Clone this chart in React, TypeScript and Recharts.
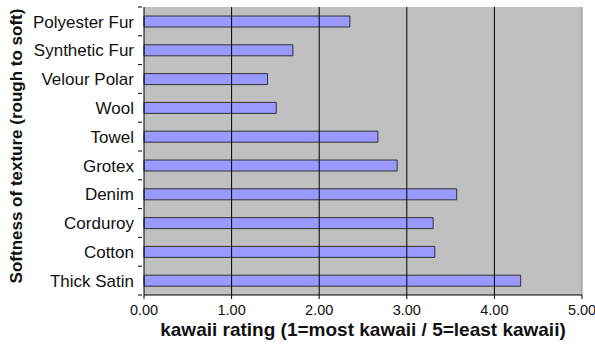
import { BarChart, Bar, XAxis, YAxis, CartesianGrid, ReferenceLine } from 'recharts';

const fabrics = [
  'Polyester Fur',
  'Synthetic Fur',
  'Velour Polar',
  'Wool',
  'Towel',
  'Grotex',
  'Denim',
  'Corduroy',
  'Cotton',
  'Thick Satin',
];
const kawaiiRatings = [2.35, 1.7, 1.41, 1.51, 2.67, 2.89, 3.57, 3.3, 3.32, 4.3];
const ratingTicks = [0, 1, 2, 3, 4, 5];
const gridLines = [1, 2, 3, 4];

const W = 595;
const H = 347;
const M = { top: 7, right: 13, bottom: 0, left: 0 };
const X_AXIS_H = 52;
const Y_AXIS_W = 144;
const PLOT_H = H - M.top - M.bottom - X_AXIS_H;
const BAND = PLOT_H / fabrics.length;

const FONT = '"Liberation Sans", Arial, Helvetica, sans-serif';

const chartData = fabrics.map((name, i) => ({ name, rating: kawaiiRatings[i] }));

// category label centred on the band, tick mark on the band boundary (Excel style)
function FabricTick(props: any) {
  const { x, y, payload, index } = props;
  const axisX = x + 6;
  const top = y - BAND / 2;
  return (
    <g>
      <line x1={axisX - 4} x2={axisX} y1={top} y2={top} stroke="#000" />
      {index === fabrics.length - 1 && (
        <line x1={axisX - 4} x2={axisX} y1={top + BAND} y2={top + BAND} stroke="#000" />
      )}
      <text
        x={axisX - 8}
        y={y}
        dy="0.36em"
        textAnchor="end"
        fill="#111"
        style={{ fontSize: 17, fontFamily: FONT }}
      >
        {payload.value}
      </text>
    </g>
  );
}

function YTitle() {
  return (
    <text
      x={16}
      y={146}
      transform="rotate(-90 16 146)"
      textAnchor="middle"
      dominantBaseline="central"
      fill="#111"
      style={{ fontSize: 17, fontWeight: 'bold', fontFamily: FONT }}
    >
      Softness of texture (rough to soft)
    </text>
  );
}

export default function App() {
  return (
    <div style={{ position: 'absolute', left: 0, top: 0, background: '#fff' }}>
      <BarChart
        width={W}
        height={H}
        data={chartData}
        layout="vertical"
        margin={M}
        barCategoryGap={0}
      >
        <CartesianGrid fill="#C0C0C0" horizontal={false} vertical={false} stroke="none" />
        <XAxis
          type="number"
          domain={[0, 5]}
          ticks={ratingTicks}
          tickFormatter={(v) => v.toFixed(2)}
          height={X_AXIS_H}
          axisLine={{ stroke: '#000' }}
          tickLine={{ stroke: '#000' }}
          tickSize={4}
          tick={{ fill: '#111', fontSize: 14.5, fontFamily: FONT, dy: 4 }}
          label={{
            value: 'kawaii rating (1=most kawaii / 5=least kawaii)',
            position: 'insideBottom',
            offset: 11,
            style: { fontSize: 19, fontWeight: 'bold', fontFamily: FONT, fill: '#111' },
          }}
        />
        <XAxis
          xAxisId="top"
          orientation="top"
          type="number"
          domain={[0, 5]}
          height={0}
          tick={false}
          tickLine={false}
          axisLine={{ stroke: '#888' }}
        />
        <YAxis
          type="category"
          dataKey="name"
          width={Y_AXIS_W}
          axisLine={{ stroke: '#000' }}
          tickLine={false}
          tick={<FabricTick />}
          interval={0}
          label={<YTitle />}
        />
        {gridLines.map((v) => (
          <ReferenceLine key={v} x={v} stroke="#000" strokeWidth={1} />
        ))}
        <ReferenceLine x={5} stroke="#888" strokeWidth={1} />
        <Bar
          dataKey="rating"
          fill="#9999FF"
          stroke="#333"
          strokeWidth={1}
          barSize={11}
          isAnimationActive={false}
        />
      </BarChart>
    </div>
  );
}
